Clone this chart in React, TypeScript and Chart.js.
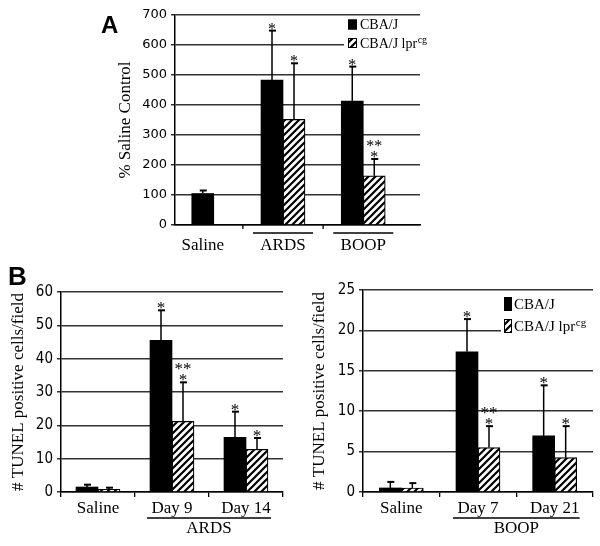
import React, { useEffect, useRef } from "react";
import { Chart, registerables } from "chart.js";

Chart.register(...registerables);

// ---------- data ----------
const SERIES_NAMES = ["CBA/J", "CBA/J lpr"];
const SERIES_SUPERSCRIPTS = ["", "cg"];

// Panel A: % Saline Control
const A_CATEGORIES = ["Saline", "ARDS", "BOOP"];
const A_CBA = [105, 483, 413];
const A_CBA_ERR = [10, 165, 115];
const A_LPR = [null, 352, 164];
const A_LPR_ERR = [null, 187, 56];
const A_CBA_SIG = ["", "*", "*"];
const A_LPR_SIG = ["", "*", "**\n*"];
const A_Y_MAX = 700;
const A_Y_STEP = 100;
const A_Y_TITLE = "% Saline Control";
const A_OVERLINED = ["ARDS", "BOOP"];

// Panel B left: ARDS TUNEL
const BL_CATEGORIES = ["Saline", "Day 9", "Day 14"];
const BL_CBA = [1.5, 45.5, 16.4];
const BL_CBA_ERR = [0.7, 9, 7.7];
const BL_LPR = [0.8, 21.2, 12.8];
const BL_LPR_ERR = [0.5, 11.7, 3.4];
const BL_CBA_SIG = ["", "*", "*"];
const BL_LPR_SIG = ["", "**\n*", "*"];
const BL_Y_MAX = 60;
const BL_Y_STEP = 10;
const BL_GROUP = "ARDS";
const BL_GROUP_MEMBERS = ["Day 9", "Day 14"];

// Panel B right: BOOP TUNEL
const BR_CATEGORIES = ["Saline", "Day 7", "Day 21"];
const BR_CBA = [0.5, 17.35, 6.95];
const BR_CBA_ERR = [0.75, 4.05, 6.25];
const BR_LPR = [0.5, 5.5, 4.25];
const BR_LPR_ERR = [0.6, 2.65, 3.9];
const BR_CBA_SIG = ["", "*", "*"];
const BR_LPR_SIG = ["", "**\n*", "*"];
const BR_Y_MAX = 25;
const BR_Y_STEP = 5;
const BR_GROUP = "BOOP";
const BR_GROUP_MEMBERS = ["Day 7", "Day 21"];

const B_Y_TITLE = "# TUNEL positive cells/field";

// ---------- styling ----------
const SERIF = '"Liberation Serif", "Times New Roman", serif';
const SANS = '"DejaVu Sans", "Liberation Sans", sans-serif';
const SANS_COND = '"DejaVu Sans Condensed", "DejaVu Sans", sans-serif';

let hatchCache: CanvasPattern | null = null;
function hatchPattern(): CanvasPattern {
  if (hatchCache) return hatchCache;
  const p = 7;
  const c = document.createElement("canvas");
  c.width = p;
  c.height = p;
  const g = c.getContext("2d")!;
  g.fillStyle = "#fff";
  g.fillRect(0, 0, p, p);
  g.strokeStyle = "#000";
  g.lineWidth = 2.2;
  g.beginPath();
  g.moveTo(-1, p + 1);
  g.lineTo(p + 1, -1);
  g.moveTo(-2, 2);
  g.lineTo(2, -2);
  g.moveTo(p - 2, p + 2);
  g.lineTo(p + 2, p - 2);
  g.stroke();
  hatchCache = g.createPattern(c, "repeat")!;
  return hatchCache;
}

type Legend = {
  x: number;
  top: number;
  rowGap: number;
  boxW: number;
  boxH: number;
  textX: number;
  baseOff: number;
  size: number;
  cover: [number, number, number, number];
};

type Panel = {
  left: number;
  top: number;
  width: number;
  height: number;
  yWidth: number;
  xHeight: number;
  padTop: number;
  padRight: number;
  titlePad: number;
  categories: string[];
  cba: (number | null)[];
  cbaErr: (number | null)[];
  lpr: (number | null)[];
  lprErr: (number | null)[];
  cbaSig: string[];
  lprSig: string[];
  yMax: number;
  yStep: number;
  yTitle: string;
  tickFont: { family: string; size: number };
  xLinear?: { min: number; max: number };
  labelPad: number;
  tickLen: number;
  overlined?: string[];
  group?: { label: string; members: string[] };
  legend?: Legend;
  starSize: number;
};

function decorPlugin(panel: Panel) {
  return {
    id: "decor",
    afterDatasetsDraw(chart: any) {
      const ctx = chart.ctx as CanvasRenderingContext2D;
      const y = chart.scales.y;
      const series = [
        { v: panel.cba, e: panel.cbaErr, s: panel.cbaSig },
        { v: panel.lpr, e: panel.lprErr, s: panel.lprSig },
      ];
      series.forEach((ser, di) => {
        const meta = chart.getDatasetMeta(di);
        meta.data.forEach((bar: any, i: number) => {
          const v = ser.v[i];
          const e = ser.e[i];
          if (v == null || e == null) return;
          const x = bar.x;
          const ey = y.getPixelForValue(v + e);
          ctx.save();
          ctx.strokeStyle = "#000";
          ctx.lineWidth = 1.5;
          ctx.beginPath();
          ctx.moveTo(x, bar.y);
          ctx.lineTo(x, ey);
          ctx.stroke();
          ctx.lineWidth = 2;
          ctx.beginPath();
          ctx.moveTo(x - 3, ey);
          ctx.lineTo(x + 4, ey);
          ctx.stroke();
          const sig = ser.s[i];
          if (sig) {
            const lines = sig.split("\n");
            ctx.fillStyle = "#000";
            ctx.font = `${panel.starSize}px ${SERIF}`;
            ctx.textAlign = "center";
            ctx.textBaseline = "alphabetic";
            lines.forEach((ln, k) => {
              const base = ey + 3 - (lines.length - 1 - k) * 11;
              ctx.fillText(ln, x, base);
            });
          }
          ctx.restore();
        });
      });
    },
    afterDraw(chart: any) {
      const ctx = chart.ctx as CanvasRenderingContext2D;
      const xs = chart.scales.x;
      const area = chart.chartArea;
      const px = (i: number) => xs.getPixelForValue(i);
      ctx.save();
      ctx.strokeStyle = "#000";
      ctx.fillStyle = "#000";
      ctx.lineWidth = 1.3;
      // tick marks between categories for the linear axis
      if (panel.xLinear) {
        for (let i = 0; i < panel.categories.length - 1; i++) {
          const m = (px(i) + px(i + 1)) / 2;
          ctx.beginPath();
          ctx.moveTo(m, area.bottom);
          ctx.lineTo(m, area.bottom + 4);
          ctx.stroke();
        }
      }
      // overlines above category labels
      if (panel.overlined) {
        panel.overlined.forEach((lab) => {
          const i = panel.categories.indexOf(lab);
          const c = px(i);
          ctx.beginPath();
          ctx.moveTo(c - 30, area.bottom + 8);
          ctx.lineTo(c + 30, area.bottom + 8);
          ctx.stroke();
        });
      }
      // group label with overline
      if (panel.group) {
        const idx = panel.group.members.map((m) => panel.categories.indexOf(m));
        const a = px(Math.min(...idx));
        const b = px(Math.max(...idx));
        ctx.beginPath();
        ctx.moveTo(a - 25, area.bottom + 26);
        ctx.lineTo(b + 25, area.bottom + 26);
        ctx.stroke();
        ctx.font = `17px ${SERIF}`;
        ctx.textAlign = "center";
        ctx.textBaseline = "alphabetic";
        ctx.fillText(panel.group.label, (a + b) / 2, area.bottom + 41);
      }
      // legend
      if (panel.legend) {
        const L = panel.legend;
        ctx.fillStyle = "#fff";
        ctx.fillRect(L.cover[0], L.cover[1], L.cover[2], L.cover[3]);
        SERIES_NAMES.forEach((name, k) => {
          const bt = L.top + k * L.rowGap;
          ctx.fillStyle = k === 0 ? "#000" : hatchPattern();
          ctx.fillRect(L.x, bt, L.boxW, L.boxH);
          ctx.strokeStyle = "#000";
          ctx.lineWidth = 1;
          ctx.strokeRect(L.x + 0.5, bt + 0.5, L.boxW - 1, L.boxH - 1);
          ctx.fillStyle = "#000";
          ctx.textAlign = "left";
          ctx.textBaseline = "alphabetic";
          ctx.font = `${L.size}px ${SERIF}`;
          const base = bt + L.baseOff;
          ctx.fillText(name, L.textX, base);
          const sup = SERIES_SUPERSCRIPTS[k];
          if (sup) {
            const w = ctx.measureText(name).width;
            ctx.font = `${Math.round(L.size * 0.72)}px ${SERIF}`;
            ctx.fillText(sup, L.textX + w + 0.5, base - 5);
          }
        });
      }
      ctx.restore();
    },
  };
}

function buildConfig(panel: Panel): any {
  const toData = (vals: (number | null)[]) =>
    panel.xLinear ? vals.map((v, i) => ({ x: i, y: v })) : vals;
  const barOpts = { barThickness: 22, skipNull: true, grouped: true };
  const xScale: any = panel.xLinear
    ? {
        type: "linear",
        offset: false,
        bounds: "data",
        min: panel.xLinear.min,
        max: panel.xLinear.max,
        afterBuildTicks: (s: any) => {
          s.ticks = panel.categories.map((_, i) => ({ value: i }));
        },
        ticks: {
          autoSkip: false,
          maxRotation: 0,
          color: "#000",
          font: { family: SERIF, size: 17 },
          padding: panel.labelPad,
          callback: (v: number) => panel.categories[v] ?? "",
        },
        grid: { display: false },
        border: { display: true, color: "#000", width: 1.5 },
        afterFit: (s: any) => {
          s.height = panel.xHeight;
        },
      }
    : {
        type: "category",
        offset: true,
        ticks: {
          autoSkip: false,
          maxRotation: 0,
          color: "#000",
          font: { family: SERIF, size: 17 },
          padding: panel.labelPad,
        },
        grid: {
          display: true,
          offset: true,
          drawOnChartArea: false,
          drawTicks: true,
          tickLength: panel.tickLen,
          color: "#000",
          lineWidth: 1.3,
        },
        border: { display: true, color: "#000", width: 1.5 },
        afterFit: (s: any) => {
          s.height = panel.xHeight;
        },
      };
  return {
    type: "bar",
    data: {
      labels: panel.categories,
      datasets: [
        {
          label: SERIES_NAMES[0] + SERIES_SUPERSCRIPTS[0],
          data: toData(panel.cba),
          backgroundColor: "#000",
          borderColor: "#000",
          borderWidth: 0,
          ...barOpts,
        },
        {
          label: SERIES_NAMES[1] + SERIES_SUPERSCRIPTS[1],
          data: toData(panel.lpr),
          backgroundColor: hatchPattern(),
          borderColor: "#000",
          borderWidth: 1.2,
          ...barOpts,
        },
      ],
    },
    options: {
      responsive: false,
      maintainAspectRatio: false,
      animation: false,
      devicePixelRatio: 1,
      layout: {
        padding: { left: 0, top: panel.padTop, right: panel.padRight, bottom: 0 },
      },
      plugins: {
        legend: { display: false },
        tooltip: { enabled: false },
        title: { display: false },
      },
      scales: {
        x: xScale,
        y: {
          type: "linear",
          min: 0,
          max: panel.yMax,
          ticks: {
            stepSize: panel.yStep,
            color: "#000",
            font: panel.tickFont,
            padding: 4,
          },
          grid: {
            color: "#333",
            lineWidth: 1.5,
            drawTicks: true,
            tickLength: 4,
          },
          border: { display: true, color: "#000", width: 1.5 },
          title: {
            display: true,
            text: panel.yTitle,
            color: "#000",
            font: { family: SERIF, size: 17 },
            padding: { top: panel.titlePad, bottom: 0 },
          },
          afterFit: (s: any) => {
            s.width = panel.yWidth;
          },
        },
      },
    },
    plugins: [decorPlugin(panel)],
  };
}

const PANEL_A: Panel = {
  left: 90,
  top: 0,
  width: 350,
  height: 265,
  yWidth: 85,
  xHeight: 40,
  padTop: 15,
  padRight: 20,
  titlePad: 25,
  categories: A_CATEGORIES,
  cba: A_CBA,
  cbaErr: A_CBA_ERR,
  lpr: A_LPR,
  lprErr: A_LPR_ERR,
  cbaSig: A_CBA_SIG,
  lprSig: A_LPR_SIG,
  yMax: A_Y_MAX,
  yStep: A_Y_STEP,
  yTitle: A_Y_TITLE,
  tickFont: { family: SANS, size: 13 },
  xLinear: { min: -0.346, max: 2.707 },
  labelPad: 2,
  tickLen: 4,
  overlined: A_OVERLINED,
  starSize: 16,
  legend: {
    x: 258,
    top: 19.5,
    rowGap: 18.5,
    boxW: 9,
    boxH: 10,
    textX: 270,
    baseOff: 9.5,
    size: 14,
    cover: [254, 17, 96, 34],
  },
};

const PANEL_BL: Panel = {
  left: 0,
  top: 270,
  width: 300,
  height: 276,
  yWidth: 61,
  xHeight: 54,
  padTop: 22,
  padRight: 17,
  titlePad: 8,
  categories: BL_CATEGORIES,
  cba: BL_CBA,
  cbaErr: BL_CBA_ERR,
  lpr: BL_LPR,
  lprErr: BL_LPR_ERR,
  cbaSig: BL_CBA_SIG,
  lprSig: BL_LPR_SIG,
  yMax: BL_Y_MAX,
  yStep: BL_Y_STEP,
  yTitle: B_Y_TITLE,
  tickFont: { family: SANS_COND, size: 15 },
  labelPad: 1,
  tickLen: 5,
  group: { label: BL_GROUP, members: BL_GROUP_MEMBERS },
  starSize: 17,
};

const PANEL_BR: Panel = {
  left: 300,
  top: 270,
  width: 300,
  height: 276,
  yWidth: 63,
  xHeight: 54,
  padTop: 20,
  padRight: 7,
  titlePad: 9,
  categories: BR_CATEGORIES,
  cba: BR_CBA,
  cbaErr: BR_CBA_ERR,
  lpr: BR_LPR,
  lprErr: BR_LPR_ERR,
  cbaSig: BR_CBA_SIG,
  lprSig: BR_LPR_SIG,
  yMax: BR_Y_MAX,
  yStep: BR_Y_STEP,
  yTitle: B_Y_TITLE,
  tickFont: { family: SANS_COND, size: 15 },
  labelPad: 1,
  tickLen: 5,
  group: { label: BR_GROUP, members: BR_GROUP_MEMBERS },
  starSize: 17,
  legend: {
    x: 204,
    top: 27,
    rowGap: 22,
    boxW: 8,
    boxH: 14,
    textX: 214,
    baseOff: 12,
    size: 15,
    cover: [201, 23, 99, 44],
  },
};

function BarPanel({ panel }: { panel: Panel }) {
  const ref = useRef<HTMLCanvasElement>(null);
  useEffect(() => {
    const chart = new Chart(ref.current!, buildConfig(panel));
    return () => chart.destroy();
  }, [panel]);
  return (
    <canvas
      ref={ref}
      width={panel.width}
      height={panel.height}
      style={{
        position: "absolute",
        left: panel.left,
        top: panel.top,
        width: panel.width,
        height: panel.height,
      }}
    />
  );
}

const letterStyle: React.CSSProperties = {
  position: "absolute",
  fontFamily: '"Liberation Sans", Arial, sans-serif',
  fontWeight: "bold",
  lineHeight: 1,
  color: "#000",
};

export default function App() {
  return (
    <div
      style={{
        position: "fixed",
        left: 0,
        top: 0,
        width: 600,
        height: 546,
        background: "#fff",
        overflow: "hidden",
      }}
    >
      <BarPanel panel={PANEL_A} />
      <BarPanel panel={PANEL_BL} />
      <BarPanel panel={PANEL_BR} />
      <div style={{ ...letterStyle, left: 101, top: 13, fontSize: 24 }}>A</div>
      <div style={{ ...letterStyle, left: 8, top: 263, fontSize: 26 }}>B</div>
    </div>
  );
}
